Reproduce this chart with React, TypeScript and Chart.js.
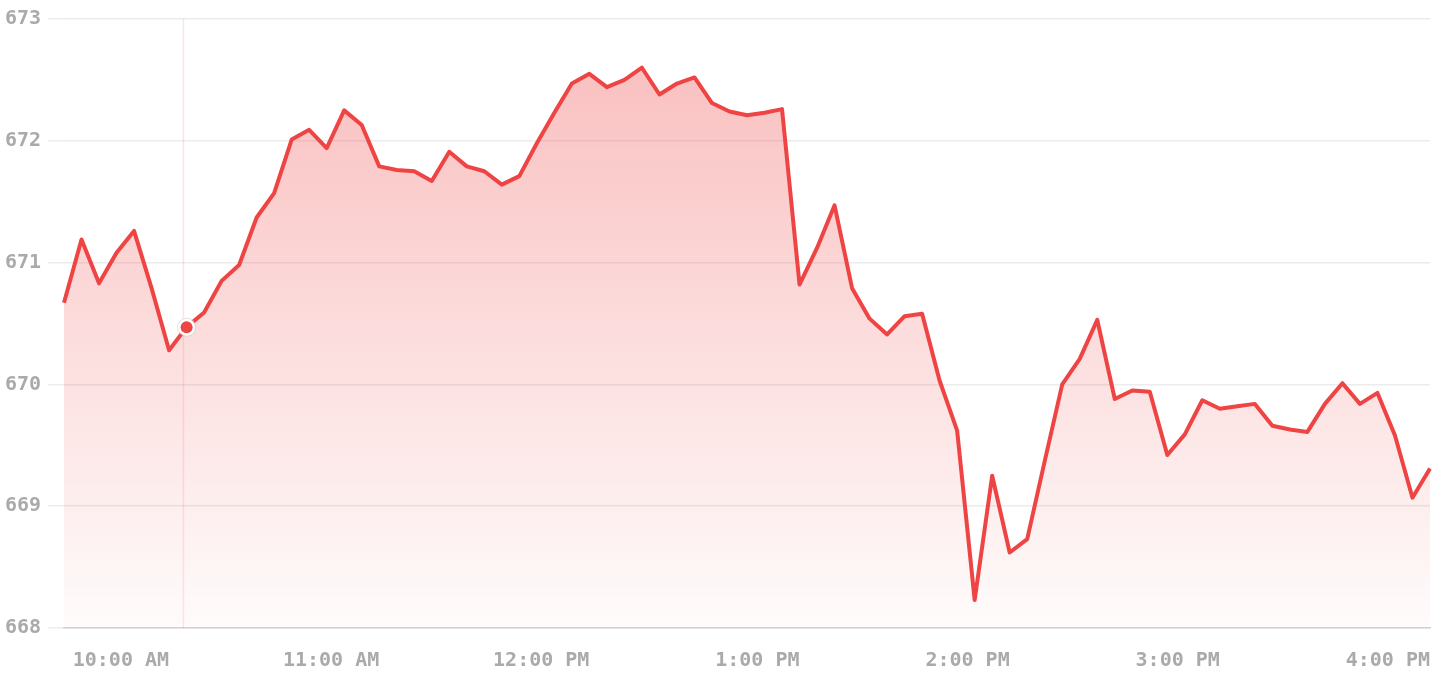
import React, { useEffect, useRef } from "react";
import { Chart, registerables } from "chart.js";

Chart.register(...registerables);

// 5-minute bars from 9:30 AM to 4:00 PM
const startMinutes = 9 * 60 + 30;
const stepMinutes = 5;

const prices: number[] = [
  670.67, 671.19, 670.83, 671.08, 671.26, 670.79, 670.28, 670.47, 670.59, 670.85,
  670.98, 671.37, 671.57, 672.01, 672.09, 671.94, 672.25, 672.13, 671.79, 671.76,
  671.75, 671.67, 671.91, 671.79, 671.75, 671.64, 671.71, 671.98, 672.23, 672.47,
  672.55, 672.44, 672.5, 672.6, 672.38, 672.47, 672.52, 672.31, 672.24, 672.21,
  672.23, 672.26, 670.82, 671.12, 671.47, 670.79, 670.54, 670.41, 670.56, 670.58,
  670.03, 669.62, 668.23, 669.25, 668.62, 668.73, 669.37, 670.0, 670.21, 670.53,
  669.88, 669.95, 669.94, 669.42, 669.59, 669.87, 669.8, 669.82, 669.84, 669.66,
  669.63, 669.61, 669.84, 670.01, 669.84, 669.93, 669.58, 669.07, 669.31,
];

const timeLabels: string[] = prices.map((_, i) => {
  const m = startMinutes + i * stepMinutes;
  const h24 = Math.floor(m / 60);
  const mm = m % 60;
  const h12 = h24 > 12 ? h24 - 12 : h24;
  const ampm = h24 >= 12 ? "PM" : "AM";
  return `${h12}:${mm.toString().padStart(2, "0")} ${ampm}`;
});

const yMin = 668;
const yMax = 673;
const hoverIndex = 7;
const crosshairValue = 6.82;

const RED = "#ef4444";
const FONT = '"DejaVu Sans Mono", monospace';

export default function App() {
  const ref = useRef<HTMLCanvasElement | null>(null);

  useEffect(() => {
    document.body.style.margin = "0";
    const canvas = ref.current!;
    const hoverPlugin = {
      id: "hoverMark",
      beforeDatasetsDraw(chart: any) {
        const { ctx, chartArea, scales } = chart;
        const x = scales.x.getPixelForValue(crosshairValue);
        ctx.save();
        ctx.strokeStyle = "rgba(239,68,68,0.14)";
        ctx.lineWidth = 1.5;
        ctx.beginPath();
        ctx.moveTo(x, chartArea.top);
        ctx.lineTo(x, chartArea.bottom);
        ctx.stroke();
        ctx.restore();
      },
      afterDatasetsDraw(chart: any) {
        const { ctx, scales } = chart;
        const px = scales.x.getPixelForValue(hoverIndex);
        const py = scales.y.getPixelForValue(prices[hoverIndex]);
        ctx.save();
        ctx.beginPath();
        ctx.arc(px, py, 9.5, 0, Math.PI * 2);
        ctx.fillStyle = "rgba(205,205,205,0.6)";
        ctx.fill();
        ctx.beginPath();
        ctx.arc(px, py, 8.5, 0, Math.PI * 2);
        ctx.fillStyle = "#ffffff";
        ctx.fill();
        ctx.beginPath();
        ctx.arc(px, py, 6, 0, Math.PI * 2);
        ctx.fillStyle = RED;
        ctx.fill();
        ctx.restore();
      },
    };

    const chart = new Chart(canvas, {
      type: "line",
      data: {
        labels: timeLabels,
        datasets: [
          {
            data: prices,
            borderColor: RED,
            borderWidth: 4,
            borderJoinStyle: "round",
            tension: 0,
            pointRadius: 0,
            fill: "start",
            backgroundColor: (c: any) => {
              const area = c.chart.chartArea;
              if (!area) return "rgba(239,68,68,0.2)";
              const g = c.chart.ctx.createLinearGradient(0, area.top, 0, area.bottom);
              g.addColorStop(0, "rgba(239,68,68,0.36)");
              g.addColorStop(1, "rgba(239,68,68,0.02)");
              return g;
            },
          },
        ],
      },
      options: {
        animation: false,
        responsive: false,
        maintainAspectRatio: false,
        events: [],
        layout: { padding: { top: 17, right: 6, bottom: 8, left: 0 } },
        plugins: { legend: { display: false }, tooltip: { enabled: false } },
        scales: {
          x: {
            afterFit: (s: any) => {
              s.height = 44;
              s.paddingLeft = 0;
              s.paddingRight = 0;
            },
            grid: { display: false, drawTicks: false },
            border: { display: true, color: "#d4d4d4", width: 1.5 },
            ticks: {
              autoSkip: false,
              maxRotation: 0,
              align: "end",
              padding: 21,
              color: "#aaaaaa",
              font: { family: FONT, size: 20, weight: "bold" },
              callback: (_v: any, i: number) => {
                const l = timeLabels[i];
                return l.includes(":00 ") ? l : null;
              },
            },
          },
          y: {
            min: yMin,
            max: yMax,
            afterFit: (s: any) => {
              s.width = 64;
            },
            grid: { color: "#ececec", lineWidth: 1.5, tickLength: 16 },
            border: { display: false },
            ticks: {
              stepSize: 1,
              padding: 7,
              color: "#aaaaaa",
              font: { family: FONT, size: 20, weight: "bold" },
            },
          },
        },
      },
      plugins: [hoverPlugin],
    } as any);
    return () => chart.destroy();
  }, []);

  return <canvas ref={ref} width={1436} height={680} style={{ display: "block" }} />;
}
